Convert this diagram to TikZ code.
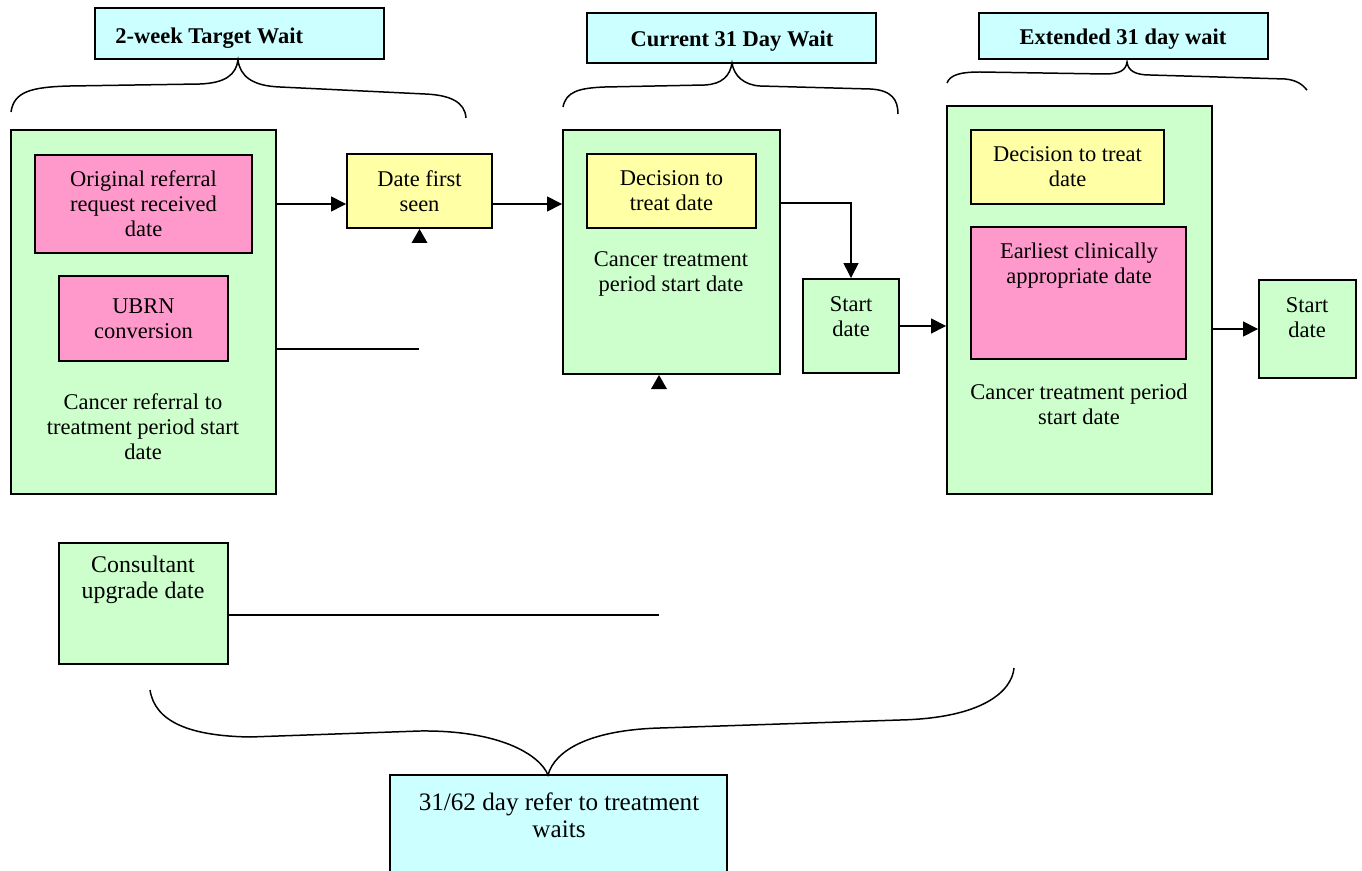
\documentclass[tikz,border=0pt]{standalone}
\usepackage{fontspec}
\setmainfont{Liberation Serif}
\usetikzlibrary{arrows.meta}

\definecolor{boxgreen}{HTML}{CCFFCC}
\definecolor{boxpink}{HTML}{FF99CC}
\definecolor{boxyellow}{HTML}{FFFFA6}
\definecolor{boxcyan}{HTML}{CCFFFF}

% rectangle node given by its corners: name, style, x1, y1, x2, y2, text
\newcommand\boxat[7]{%
  \node[#2, minimum width={(#5-#3)*0.02cm}, minimum height={(#6-#4)*0.02cm}]
    (#1) at ({(#3+#5)/2},{(#4+#6)/2}) {#7};}

\begin{document}
\begin{tikzpicture}[x=0.02cm, y=-0.02cm,
  body/.style={font=\fontsize{12.8}{14.2}\selectfont},
  bigbody/.style={font=\fontsize{13.6}{15}\selectfont},
  ttl/.style={font=\fontsize{12.8}{14.2}\selectfont\bfseries, inner sep=0pt},
  box/.style={draw, line width=1.1pt, inner sep=0pt, align=center, body},
  gbox/.style={box, fill=boxgreen},
  pbox/.style={box, fill=boxpink},
  ybox/.style={box, fill=boxyellow},
  cbox/.style={box, fill=boxcyan},
  txt/.style={align=center, inner sep=0pt, body},
  link/.style={line width=0.85pt},
  arr/.style={link, -{Triangle[length=8.5pt, width=8.5pt]}},
  brace/.style={line width=0.85pt},
]
\useasboundingbox (0,0) rectangle (1362,871);
\clip (0,0) rectangle (1362,871);
\fill[white] (0,0) rectangle (1362,871);

% headings
\boxat{t1}{cbox}{95}{8}{384}{59}{}
\node[ttl, anchor=west] (t1t) at (115,38) {2-week Target Wait};
\boxat{t2}{cbox}{587}{13}{876}{63}{}
\node[ttl] (t2t) at (732,41) {Current 31 Day Wait};
\boxat{t3}{cbox}{979}{13}{1268}{59}{}
\node[ttl] (t3t) at (1123,39) {Extended 31 day wait};

% braces under the headings
\draw[brace] (11,112) .. controls (14,92) and (30,87) .. (70,86) -- (200,84)
  .. controls (225,83) and (236,75) .. (238,60)
  .. controls (240,76) and (252,86) .. (280,87) -- (425,94)
  .. controls (450,95) and (465,102) .. (466,118);
\draw[brace] (563,107) .. controls (566,92) and (578,88) .. (605,87) -- (705,85)
  .. controls (722,84) and (730,76) .. (732,63)
  .. controls (734,76) and (744,85) .. (760,86) -- (870,89)
  .. controls (892,90) and (898,100) .. (898,114);
\draw[brace] (947,83) .. controls (950,75) and (960,72) .. (980,72) -- (1105,74)
  .. controls (1120,74) and (1126,70) .. (1127,62)
  .. controls (1128,70) and (1134,75) .. (1150,75) -- (1285,79)
  .. controls (1296,80) and (1302,84) .. (1307,90);

% referral block
\boxat{g1}{gbox}{11}{130}{276}{494}{}
\boxat{orr}{pbox}{35}{155}{252}{253}{Original referral\\request received\\date}
\boxat{ubrn}{pbox}{59}{276}{228}{361}{UBRN\\conversion}
\node[txt] (g1t) at (143,427) {Cancer referral to\\treatment period start\\date};

\boxat{dfs}{ybox}{347}{154}{492}{228}{Date first\\seen}

% current 31 day block
\boxat{g2}{gbox}{563}{130}{780}{374}{}
\boxat{dtt}{ybox}{587}{154}{756}{228}{Decision to\\treat date}
\node[txt] (g2t) at (671,274) {Cancer treatment\\period start date};

\boxat{s1}{gbox}{803}{279}{899}{373}{}
\node[txt] (s1t) at (851,317) {Start\\date};

% extended 31 day block
\boxat{g3}{gbox}{947}{106}{1212}{494}{}
\boxat{dtt2}{ybox}{971}{130}{1164}{204}{Decision to treat\\date}
\boxat{eca}{pbox}{971}{227}{1186}{359}{}
\node[txt] (ecat) at (1079,266) {Earliest clinically\\appropriate date};
\node[txt] (g3t) at (1079,404) {Cancer treatment period\\start date};

\boxat{s2}{gbox}{1259}{280}{1356}{378}{}
\node[txt] (s2t) at (1307,318) {Start\\date};

% consultant upgrade
\boxat{cons}{gbox}{59}{543}{228}{664}{}
\node[txt, bigbody] (const) at (143,580) {Consultant\\upgrade date};

% overall wait
\boxat{tot}{cbox}{390}{775}{727}{900}{}
\node[txt, font=\fontsize{14.3}{15.4}\selectfont] (tott) at (559,815) {31/62 day refer to treatment\\waits};
\draw[brace] (150,690) .. controls (155,722) and (190,736) .. (250,737) -- (420,731)
  .. controls (500,730) and (540,755) .. (548,775)
  .. controls (555,750) and (590,730) .. (660,728) -- (900,720)
  .. controls (985,718) and (1012,690) .. (1014,668);

% connectors
\coordinate (r204) at (0,204);
\coordinate (r203) at (0,203);
\coordinate (e1) at (419,349);
\coordinate (e2) at (659,615);
\draw[arr] (g1.east |- r204) -- (dfs.west |- r204);
\draw[arr] (dfs.east |- r204) -- (g2.west |- r204);
\draw[arr] (g2.east |- r203) -| (s1.north);
\draw[arr] (s1.east) -- (g3.west |- s1.east);
\draw[arr] (g3.east |- s2.west) -- (s2.west);
\draw[link] (g1.east |- e1) -- (e1);
\draw[link] (cons.east |- e2) -- (e2);

% small pointers under boxes
\fill (411.5,243) -- (427.5,243) -- (419.5,229) -- cycle;
\fill (651,389) -- (667,389) -- (659,375) -- cycle;
\end{tikzpicture}
\end{document}
